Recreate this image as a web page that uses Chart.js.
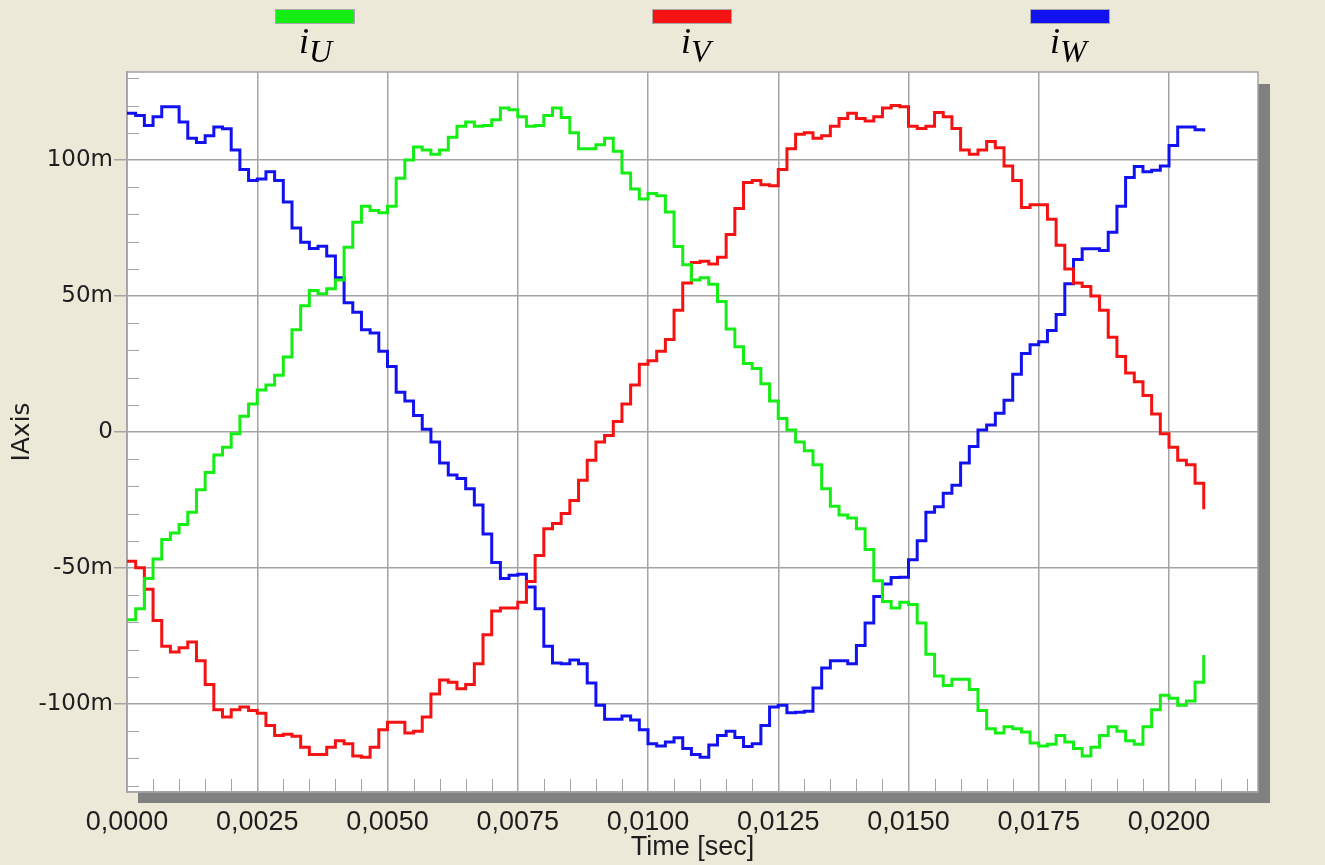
<!DOCTYPE html>
<html>
<head>
<meta charset="utf-8">
<title>Phase currents iU iV iW</title>
<script src="https://cdn.jsdelivr.net/npm/chart.js@4.4.1/dist/chart.umd.min.js"></script>
<style>
    html, body { margin: 0; padding: 0; background: #ece9d8; }
    #wrap { position: relative; width: 1325px; height: 865px; overflow: hidden; }
    #chart { position: absolute; left: 0; top: 0; }
    .swatch { position: absolute; top: 9px; width: 80px; height: 15px; border: 1px solid #a8a8a8; box-sizing: border-box; }
    .lbl { position: absolute; top: 23px; font: italic 36px/36px "Liberation Serif", "Times New Roman", serif; color: #000; white-space: nowrap; }
    .lbl sub { font-size: 32px; vertical-align: -9px; line-height: 0; }
</style>
</head>
<body>
<div id="wrap">
    <canvas id="chart" width="1325" height="865"></canvas>
    <div class="swatch" style="left:275px;background:#14ee14"></div>
    <div class="lbl" style="left:299px">i<sub>U</sub></div>
    <div class="swatch" style="left:652px;background:#f51212"></div>
    <div class="lbl" style="left:681px">i<sub>V</sub></div>
    <div class="swatch" style="left:1030px;background:#1212f0"></div>
    <div class="lbl" style="left:1050px">i<sub>W</sub></div>
</div>
<script>
// sample period of the recorder (s)
const SAMPLE_DT = 1 / 6000;

// phase currents in mA, one value per sample
const iU = [
    -69.0, -65.0, -53.9, -46.7, -39.5, -37.1, -34.0, -29.5, -21.2, -14.9,
    -8.5, -5.6, -0.6, 5.8, 10.3, 15.4, 17.3, 20.9, 27.6, 37.6,
    46.4, 52.0, 50.8, 52.7, 55.9, 67.9, 77.1, 83.0, 81.4, 80.6,
    83.0, 93.3, 100.0, 104.8, 103.7, 102.1, 103.7, 108.4, 112.4, 114.0,
    112.4, 112.7, 114.8, 119.1, 118.5, 115.9, 112.4, 112.7, 116.4, 119.1,
    115.6, 110.0, 104.1, 104.1, 105.6, 108.0, 103.2, 95.2, 89.3, 85.7,
    87.7, 86.9, 80.9, 68.2, 61.5, 55.9, 56.7, 54.3, 48.0, 37.9,
    31.3, 25.2, 23.3, 17.7, 11.4, 5.0, 0.7, -3.7, -6.9, -12.0,
    -20.9, -27.3, -30.5, -31.6, -35.6, -43.2, -54.7, -62.3, -64.7, -62.6,
    -63.4, -70.2, -81.7, -89.7, -93.2, -90.9, -90.9, -94.7, -102.4, -109.1,
    -110.7, -108.4, -109.1, -110.3, -114.3, -115.4, -114.8, -111.6, -114.0, -116.4,
    -119.1, -115.9, -111.6, -108.4, -110.0, -113.5, -114.8, -108.4, -102.1, -96.8,
    -97.9, -100.5, -98.9, -92.0, -82.0
];
const iV = [
    -47.5, -49.9, -57.8, -69.3, -78.8, -80.9, -79.3, -77.2, -84.1, -92.8,
    -102.1, -104.8, -102.1, -101.1, -102.4, -103.4, -107.9, -111.6, -111.1, -111.9,
    -115.9, -118.6, -118.6, -115.9, -113.5, -114.6, -119.1, -119.6, -115.9, -109.5,
    -106.7, -106.7, -110.7, -110.0, -104.8, -96.3, -91.2, -92.0, -94.4, -92.8,
    -85.2, -74.5, -65.8, -64.7, -64.7, -62.6, -55.0, -45.4, -35.6, -33.6,
    -30.0, -25.2, -17.7, -10.4, -3.7, -1.3, 3.9, 10.3, 17.3, 24.9,
    26.2, 29.7, 34.0, 44.8, 54.8, 62.3, 62.8, 61.8, 64.2, 72.6,
    82.2, 91.7, 92.5, 90.9, 90.5, 96.5, 104.1, 109.5, 110.0, 108.0,
    108.9, 112.4, 115.3, 117.2, 115.3, 114.3, 115.9, 119.1, 120.0, 119.6,
    112.4, 111.6, 112.4, 117.5, 115.9, 111.6, 103.7, 102.1, 103.7, 106.8,
    104.5, 97.8, 92.5, 82.5, 83.5, 83.5, 78.2, 68.7, 59.9, 54.8,
    53.5, 50.0, 44.8, 34.8, 27.8, 21.7, 18.5, 13.4, 6.6, -0.6,
    -5.6, -10.4, -12.0, -18.8, -28.4
];
const iW = [
    117.2, 116.4, 112.7, 115.9, 119.6, 119.6, 114.0, 108.0, 106.4, 108.9,
    112.1, 111.5, 103.7, 96.5, 92.5, 93.0, 95.7, 92.5, 84.6, 75.0,
    69.8, 67.5, 68.3, 64.7, 56.7, 47.5, 44.0, 37.6, 36.4, 29.7,
    24.1, 14.6, 11.4, 6.1, 1.0, -3.7, -11.4, -15.8, -17.1, -20.9,
    -26.8, -37.5, -48.0, -53.9, -52.7, -52.3, -57.0, -65.0, -78.8, -84.9,
    -85.2, -83.8, -85.2, -92.3, -100.5, -105.6, -105.6, -104.4, -105.9, -109.5,
    -114.6, -115.4, -114.0, -112.4, -116.4, -118.6, -119.6, -115.1, -111.6, -110.0,
    -112.3, -115.6, -114.6, -107.9, -101.1, -100.5, -103.2, -103.0, -102.7, -94.1,
    -86.8, -84.1, -84.1, -85.2, -78.5, -70.2, -60.5, -55.9, -53.5, -53.4,
    -47.0, -40.0, -29.5, -27.5, -22.5, -19.6, -11.4, -5.3, 0.7, 2.6,
    6.9, 11.7, 21.2, 28.9, 32.1, 33.2, 37.3, 43.2, 54.5, 63.4,
    67.4, 67.4, 66.7, 73.4, 83.0, 93.6, 97.6, 95.7, 96.2, 97.8,
    105.3, 112.1, 112.1, 111.1, 110.5
];

const seriesNames = ['iU', 'iV', 'iW'];
const seriesValues = [iU, iV, iW];

// axis ranges and tick steps
const X_MIN = 0, X_MAX = 0.021708, X_STEP = 0.0025, X_MINOR = 0.0005;
const Y_MIN = -132.35, Y_MAX = 132.35, Y_STEP = 50, Y_MINOR = 10;

const lineColors = ['#14ee14', '#f51212', '#1212f0'];
const gridColor = '#a4a4a4';

// white plot area, drop shadow, minor ticks and frame
const plotFrame = {
    id: 'plotFrame',
    beforeDraw(chart) {
        const { ctx, chartArea: a } = chart;
        ctx.save();
        ctx.fillStyle = '#808080';
        ctx.fillRect(a.right, a.top + 12, 12, a.bottom - a.top - 1);
        ctx.fillRect(a.left + 11, a.bottom, a.right - a.left + 1, 11);
        ctx.fillStyle = '#ffffff';
        ctx.fillRect(a.left, a.top, a.right - a.left, a.bottom - a.top);
        ctx.restore();
    },
    beforeDatasetsDraw(chart) {
        const { ctx, chartArea: a, scales } = chart;
        ctx.save();
        ctx.strokeStyle = gridColor;
        ctx.lineWidth = 1;
        ctx.beginPath();
        for (let i = 1; i * X_MINOR < X_MAX; i++) {
            if (i % 5 === 0) continue;
            const px = Math.round(scales.x.getPixelForValue(i * X_MINOR)) + 0.5;
            ctx.moveTo(px, a.bottom);
            ctx.lineTo(px, a.bottom - 13);
        }
        for (let v = -130; v <= 130; v += Y_MINOR) {
            if (v % 50 === 0) continue;
            const py = Math.round(scales.y.getPixelForValue(v)) + 0.5;
            ctx.moveTo(a.left, py);
            ctx.lineTo(a.left + 12, py);
        }
        ctx.stroke();
        ctx.lineWidth = 1.5;
        ctx.strokeRect(a.left, a.top, a.right - a.left, a.bottom - a.top);
        ctx.restore();
    }
};

const datasets = seriesValues.map((vals, s) => ({
    label: seriesNames[s],
    data: vals.map((v, k) => ({ x: k * SAMPLE_DT, y: v })),
    borderColor: lineColors[s],
    borderWidth: 3,
    stepped: true,
    pointRadius: 0,
    fill: false
}));

new Chart(document.getElementById('chart'), {
    type: 'line',
    data: { datasets: datasets },
    options: {
        responsive: false,
        animation: false,
        devicePixelRatio: 1,
        layout: { padding: { top: 72, right: 67, left: 0, bottom: 0 } },
        plugins: {
            legend: { display: false },
            tooltip: { enabled: false }
        },
        scales: {
            x: {
                type: 'linear',
                min: X_MIN,
                max: X_MAX,
                afterFit(scale) { scale.height = 73; },
                grid: { color: gridColor, lineWidth: 1.5, drawTicks: false },
                border: { color: gridColor, width: 1.5 },
                ticks: {
                    stepSize: X_STEP,
                    includeBounds: false,
                    autoSkip: false,
                    maxRotation: 0,
                    padding: 14,
                    color: '#1e1e1e',
                    font: { family: '"Liberation Sans", Arial, sans-serif', size: 27 },
                    callback: v => v.toFixed(4).replace('.', ',')
                },
                title: {
                    display: true,
                    text: 'Time [sec]',
                    color: '#1e1e1e',
                    font: { family: '"Liberation Sans", Arial, sans-serif', size: 27 },
                    padding: { top: 0, bottom: 1 }
                }
            },
            y: {
                min: Y_MIN,
                max: Y_MAX,
                afterFit(scale) { scale.width = 127; },
                grid: { color: gridColor, lineWidth: 1.5, drawTicks: true, tickLength: 13, tickColor: gridColor },
                border: { color: gridColor, width: 1.5 },
                ticks: {
                    stepSize: Y_STEP,
                    includeBounds: false,
                    padding: 1,
                    color: '#1e1e1e',
                    font: { family: '"DejaVu Sans", Verdana, sans-serif', size: 23 },
                    callback: v => (v === 0 ? '0' : v + 'm')
                },
                title: {
                    display: true,
                    text: 'IAxis',
                    color: '#1e1e1e',
                    font: { family: '"DejaVu Sans", Verdana, sans-serif', size: 25 },
                    padding: { top: 7, bottom: 0 }
                }
            }
        }
    },
    plugins: [plotFrame]
});
</script>
</body>
</html>
